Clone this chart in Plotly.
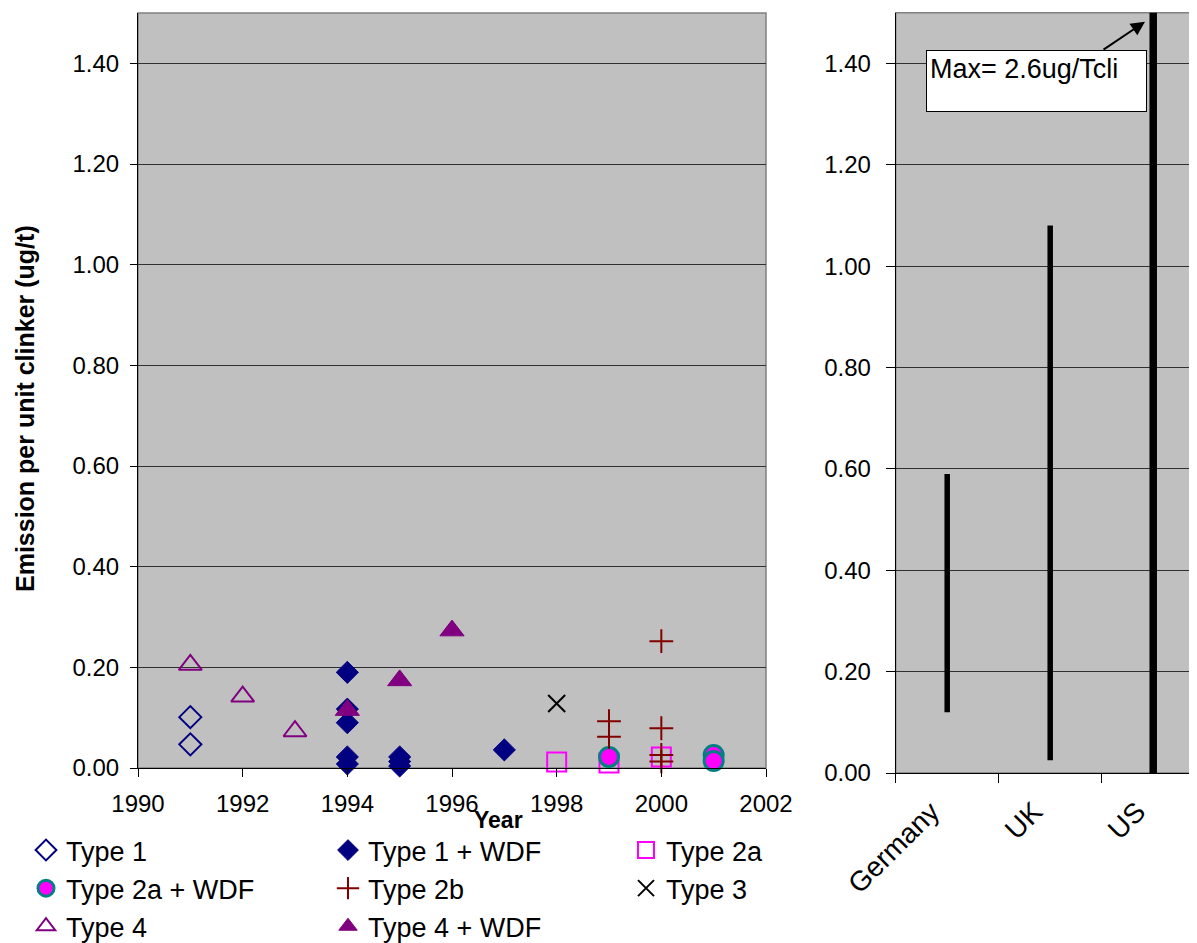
import plotly.graph_objects as go

# ---------------- data ----------------
type1_x = [1991, 1991]
type1_y = [0.101, 0.047]

type1wdf_x = [1994, 1994, 1994, 1994, 1994, 1995, 1995, 1995, 1997]
type1wdf_y = [0.190, 0.117, 0.090, 0.022, 0.008, 0.022, 0.013, 0.004, 0.036]

type2a_x = [1998, 1999, 2000]
type2a_y = [0.012, 0.010, 0.022]

type2awdf_x = [1999, 2001, 2001]
type2awdf_y = [0.022, 0.026, 0.014]

type2b_x = [1999, 1999, 2000, 2000, 2000, 2000]
type2b_y = [0.093, 0.062, 0.252, 0.079, 0.026, 0.013]

type3_x = [1998]
type3_y = [0.128]

type4_x = [1991, 1992, 1993]
type4_y = [0.205, 0.142, 0.073]

type4wdf_x = [1994, 1995, 1996]
type4wdf_y = [0.115, 0.174, 0.273]

countries = ["Germany", "UK", "US"]
range_low = [0.12, 0.025, 0.0]
range_high = [0.59, 1.08, 2.6]
range_width = [5.5, 5.5, 7.5]

year_ticks = [1990, 1992, 1994, 1996, 1998, 2000, 2002]

# ---------------- figure geometry ----------------
OFF = 8                      # page body margin
W, H = 1197 - OFF, 943 - OFF
FONT = "Liberation Sans, Arial, sans-serif"


def PX(p):
    return (p - OFF) / W


def PY(p):
    return 1 - (p - OFF) / H


fig = go.Figure()

series = [
    ("Type 1", type1_x, type1_y, "legend",
     dict(symbol="diamond-open", size=17, color="#000080", line=dict(width=2, color="#000080"))),
    ("Type 1 + WDF", type1wdf_x, type1wdf_y, "legend2",
     dict(symbol="diamond", size=17, color="#000080", line=dict(width=1, color="#000080"))),
    ("Type 2a", type2a_x, type2a_y, "legend3",
     dict(symbol="square-open", size=19, color="#FF00FF", line=dict(width=2, color="#FF00FF"))),
    ("Type 2a + WDF", type2awdf_x, type2awdf_y, "legend",
     dict(symbol="circle", size=19, color="#FF00FF", line=dict(width=3, color="#008080"))),
    ("Type 2b", type2b_x, type2b_y, "legend2",
     dict(symbol="cross-thin", size=17, color="#800000", line=dict(width=2, color="#800000"))),
    ("Type 3", type3_x, type3_y, "legend3",
     dict(symbol="x-thin", size=17, color="#000000", line=dict(width=2, color="#000000"))),
    ("Type 4", type4_x, type4_y, "legend",
     dict(symbol="triangle-up-open", size=20, color="#800080", line=dict(width=2, color="#800080"))),
    ("Type 4 + WDF", type4wdf_x, type4wdf_y, "legend2",
     dict(symbol="triangle-up", size=21, color="#800080", line=dict(width=1, color="#800080"))),
]
for name, xs, ys, lg, mk in series:
    fig.add_trace(go.Scatter(x=xs, y=ys, mode="markers", name=name, marker=mk, legend=lg,
                             xaxis="x", yaxis="y", cliponaxis=False))

for c, lo, hi, w in zip(countries, range_low, range_high, range_width):
    fig.add_trace(go.Scatter(x=[c, c], y=[lo, hi], mode="lines", showlegend=False,
                             line=dict(color="black", width=w), xaxis="x2", yaxis="y2"))

axis_common = dict(showline=True, linecolor="black", linewidth=1, ticks="outside",
                   tickcolor="black", automargin=False, zeroline=False)
tickfont = dict(family=FONT, size=24, color="black")

legend_common = dict(orientation="v", xanchor="left", yanchor="top", traceorder="normal",
                     font=dict(family=FONT, size=27, color="black"),
                     bgcolor="rgba(0,0,0,0)", borderwidth=0, itemclick=False,
                     itemdoubleclick=False, tracegroupgap=0)

fig.update_layout(
    width=W, height=H, template="none",
    margin=dict(l=0, r=0, t=0, b=0, autoexpand=False),
    paper_bgcolor="white", plot_bgcolor="#C0C0C0",
    font=dict(family=FONT, color="black"),
    xaxis=dict(domain=[PX(138), PX(766)], range=[1990, 2002], tickvals=year_ticks,
               tickformat="d", showgrid=False, ticklen=8, ticklabelstandoff=6, anchor="y",
               tickfont=tickfont, **axis_common),
    yaxis=dict(domain=[PY(768), PY(13)], range=[0, 1.5], tick0=0, dtick=0.2,
               tickformat=".2f", showgrid=True, gridcolor="#303030", gridwidth=1,
               ticklen=7, ticklabelstandoff=6, anchor="x", tickfont=tickfont, **axis_common),
    xaxis2=dict(domain=[PX(895.7), 1.0], type="category", categoryorder="array",
                categoryarray=countries, range=[-0.5, 2.425], tickson="boundaries",
                tickangle=-45, showgrid=False, ticklen=9, ticklabelstandoff=10,
                ticklabelshift=-16, anchor="y2",
                tickfont=dict(family=FONT, size=28, color="black"), **axis_common),
    yaxis2=dict(domain=[PY(773), PY(12.7)], range=[0, 1.5], tick0=0, dtick=0.2,
                tickformat=".2f", showgrid=True, gridcolor="#303030", gridwidth=1,
                ticklen=9, ticklabelstandoff=10, anchor="x2", tickfont=tickfont, **axis_common),
    legend=dict(x=PX(26), y=PY(826), **legend_common),
    legend2=dict(x=PX(328), y=PY(826), **legend_common),
    legend3=dict(x=PX(626), y=PY(826), **legend_common),
    showlegend=True,
)

# plot-area borders (gray)
for xr, yr in [("x domain", "y domain"), ("x2 domain", "y2 domain")]:
    fig.add_shape(type="rect", xref=xr, yref=yr, x0=0, x1=1, y0=0, y1=1,
                  line=dict(color="#808080", width=1.5), fillcolor="rgba(0,0,0,0)", layer="below")

# axis titles
fig.add_annotation(text="<b>Year</b>", xref="paper", yref="paper", x=PX(498), y=PY(820),
                   xanchor="center", yanchor="middle", showarrow=False,
                   font=dict(family=FONT, size=23, color="black"))
fig.add_annotation(text="<b>Emission per unit clinker (ug/t)</b>", xref="paper", yref="paper",
                   x=PX(25), y=PY(409), textangle=-90, xanchor="center", yanchor="middle",
                   showarrow=False, font=dict(family=FONT, size=25, color="black"))

# max annotation box
fig.add_annotation(text="Max= 2.6ug/Tcli", xref="paper", yref="paper", x=PX(926), y=PY(50),
                   xanchor="left", yanchor="top", showarrow=False, width=213, height=54,
                   align="left", valign="top", bgcolor="white", bordercolor="black",
                   borderwidth=1, borderpad=3, font=dict(family=FONT, size=27, color="black"))
fig.add_annotation(text="", xref="paper", yref="paper", x=PX(1145), y=PY(21.7),
                   ax=-43, ay=29, showarrow=True, arrowhead=2, arrowsize=1.4,
                   arrowwidth=2, arrowcolor="black")

fig.write_html("out.html")
